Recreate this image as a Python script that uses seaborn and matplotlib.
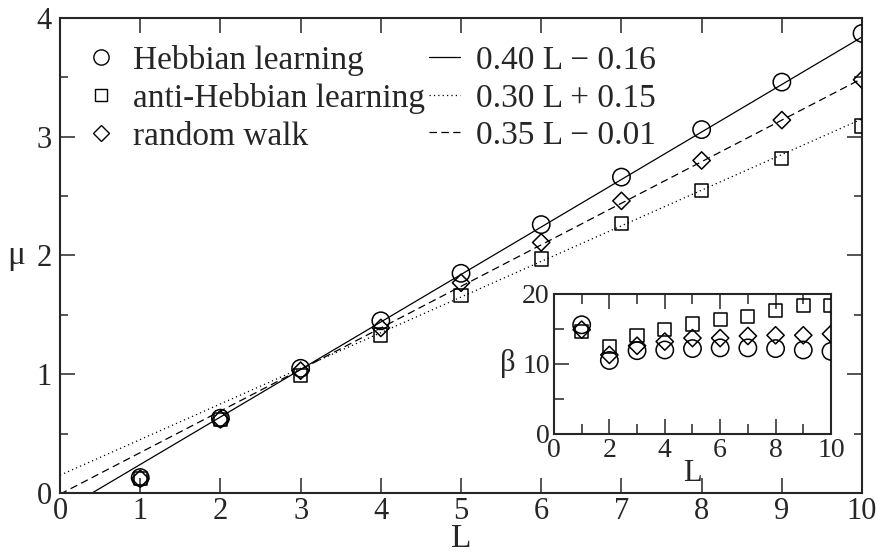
import matplotlib
matplotlib.use("Agg")
import matplotlib.pyplot as plt
import seaborn as sns
import pandas as pd
from matplotlib.lines import Line2D
from matplotlib.ticker import MultipleLocator

# data
L = [1, 2, 3, 4, 5, 6, 7, 8, 9, 10]
mu_hebb = [0.13, 0.63, 1.05, 1.45, 1.85, 2.26, 2.66, 3.06, 3.46, 3.87]
mu_anti = [0.12, 0.62, 0.99, 1.33, 1.66, 1.97, 2.27, 2.55, 2.82, 3.09]
mu_rw = [0.12, 0.62, 1.03, 1.39, 1.77, 2.11, 2.46, 2.80, 3.14, 3.48]

beta_hebb = [15.6, 10.5, 11.9, 12.0, 12.2, 12.3, 12.3, 12.2, 12.0, 11.8]
beta_anti = [14.6, 12.5, 14.1, 14.9, 15.7, 16.3, 16.8, 17.6, 18.3, 18.3]
beta_rw = [14.9, 11.3, 12.6, 13.2, 13.7, 13.7, 14.0, 14.1, 14.1, 14.3]

# fitted lines: slope, intercept, legend label, line style
fits = [(0.40, -0.16, "0.40 L \u2212 0.16", "-"),
        (0.30, 0.15, "0.30 L + 0.15", (0, (1, 2.5))),
        (0.35, -0.01, "0.35 L \u2212 0.01", (0, (6, 3.5)))]
fit_L = [0, 10]

sns.set_style("ticks")
plt.rcParams["font.family"] = ["Liberation Serif", "DejaVu Serif"]

fig = plt.figure(figsize=(8.8, 5.53), dpi=100)
ax = fig.add_axes([0.0682, 0.1085, 0.9114, 0.859])

for a, b, lab, ls in fits:
    d = pd.DataFrame({"L": fit_L, "mu": [a * x + b for x in fit_L]})
    sns.lineplot(data=d, x="L", y="mu", ax=ax, color="black", lw=0.9)
    ax.lines[-1].set_linestyle(ls)

marker_kw = dict(facecolor="none", edgecolor="black", linewidth=1.1, zorder=5)
sns.scatterplot(x=L, y=mu_hebb, marker="o", s=12.5**2, ax=ax, **marker_kw)
sns.scatterplot(x=L, y=mu_anti, marker="s", s=9.5**2, ax=ax, **marker_kw)
sns.scatterplot(x=L, y=mu_rw, marker="D", s=8.8**2, ax=ax, **marker_kw)

ax.set_xlim(0, 10)
ax.set_ylim(0, 4)
ax.xaxis.set_major_locator(MultipleLocator(1))
ax.yaxis.set_major_locator(MultipleLocator(1))
ax.yaxis.set_minor_locator(MultipleLocator(0.5))
ax.tick_params(which="both", direction="in", top=True, right=True,
               labelsize=22, width=1.1, pad=3)
ax.tick_params(axis="y", pad=6)
ax.tick_params(which="major", length=11)
ax.tick_params(which="minor", length=6)
for s in ax.spines.values():
    s.set_linewidth(1.5)
ax.set_xlabel("L", fontsize=24, labelpad=-2)
ax.set_ylabel("\u03bc", fontsize=24, rotation=0, va="center", ha="center")
ax.yaxis.set_label_coords(-0.055, 0.5)

# legend
h = [Line2D([], [], ls="none", marker="o", mfc="none", mec="black", ms=11, mew=1),
     Line2D([], [], ls="none", marker="s", mfc="none", mec="black", ms=9, mew=1),
     Line2D([], [], ls="none", marker="D", mfc="none", mec="black", ms=8, mew=1)]
labels = ["Hebbian learning", "anti-Hebbian learning", "random walk"]
for a, b, lab, ls in fits:
    h.append(Line2D([], [], color="black", lw=0.9, linestyle=ls))
    labels.append(lab)
ax.legend(h, labels, ncol=2, loc="upper left", bbox_to_anchor=(0.032, 0.943),
          frameon=False, fontsize=24, handlelength=0.92, handletextpad=0.5,
          columnspacing=0.12, labelspacing=0.21, borderpad=0, borderaxespad=0)

# inset
ins = fig.add_axes([0.6295, 0.2152, 0.3148, 0.2532])
sns.scatterplot(x=L, y=beta_hebb, marker="o", s=12.5**2, ax=ins, **marker_kw)
sns.scatterplot(x=L, y=beta_anti, marker="s", s=9.5**2, ax=ins, **marker_kw)
sns.scatterplot(x=L, y=beta_rw, marker="D", s=8.8**2, ax=ins, **marker_kw)
ins.set_xlim(0, 10)
ins.set_ylim(0, 20)
ins.xaxis.set_major_locator(MultipleLocator(2))
ins.xaxis.set_minor_locator(MultipleLocator(1))
ins.yaxis.set_major_locator(MultipleLocator(10))
ins.yaxis.set_minor_locator(MultipleLocator(5))
ins.tick_params(which="both", direction="in", top=True, right=False,
                labelsize=20, width=1.1, pad=3)
ins.tick_params(which="major", length=11)
ins.tick_params(which="minor", length=7)
for s in ins.spines.values():
    s.set_linewidth(1.5)
ins.set_xlabel("L", fontsize=22, labelpad=-3)
ins.set_ylabel("\u03b2", fontsize=22, rotation=0, labelpad=10, va="center")

fig.savefig("out.png", dpi=100)
